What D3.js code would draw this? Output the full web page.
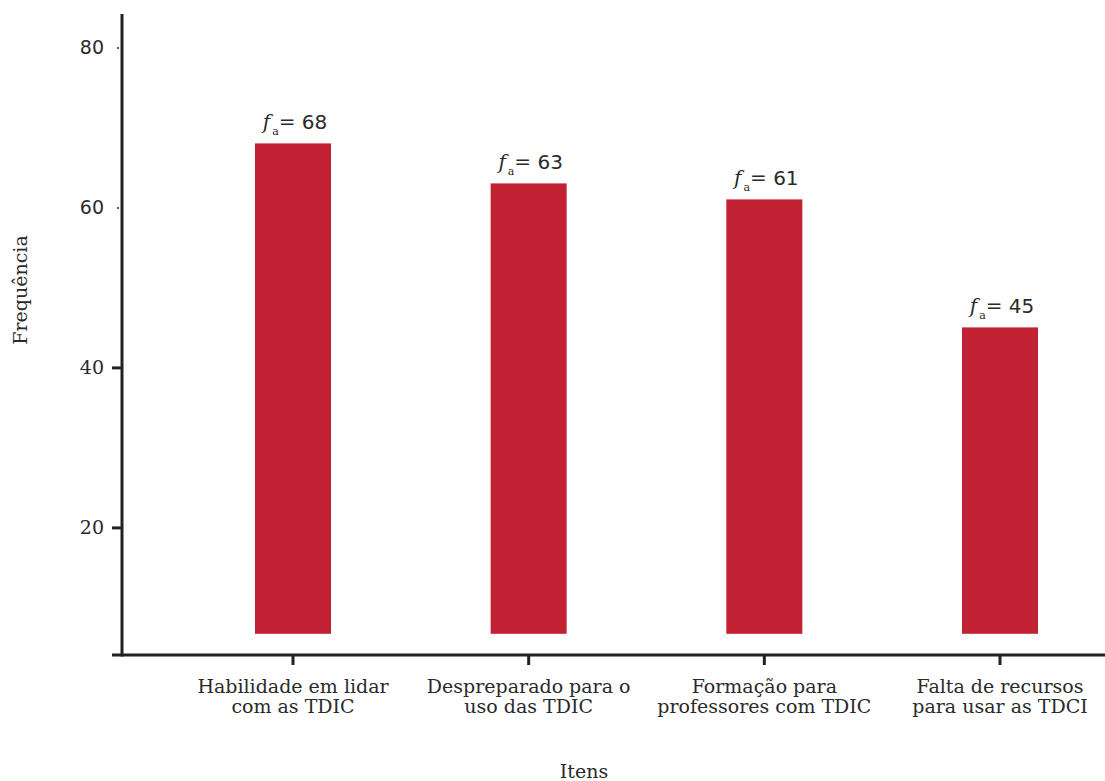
<!DOCTYPE html>
<html>
<head>
<meta charset="utf-8">
<script src="https://cdn.jsdelivr.net/npm/d3@7"></script>
<style>
  html, body { margin: 0; padding: 0; background: #fff; }
  svg { display: block; }
  text { font-family: "DejaVu Serif", serif; fill: #2a2a2a; }
</style>
</head>
<body>
<svg id="chart" width="1105" height="781"></svg>
<script>
// Categories and their absolute frequencies
const categories = [
  ["Habilidade em lidar", "com as TDIC"],
  ["Despreparado para o", "uso das TDIC"],
  ["Formação para", "professores com TDIC"],
  ["Falta de recursos", "para usar as TDCI"]
];
const frequencies = [68, 63, 61, 45];
const yTicks = [20, 40, 60, 80];
const barBase = 6.7;

const svg = d3.select("#chart");
const ink = "#222";

const x = d3.scalePoint()
  .domain(d3.range(categories.length))
  .range([293, 1000]);
const barWidth = 76;

const y = d3.scaleLinear()
  .domain([0, 80])
  .range([687.4, 47.4]);

const axisY = 655;   // position of the horizontal axis line
const axisX = 122;   // position of the vertical axis line

// Bars
svg.append("g").selectAll("rect")
  .data(frequencies)
  .join("rect")
  .attr("x", (d, i) => x(i) - barWidth / 2)
  .attr("y", d => y(d))
  .attr("width", barWidth)
  .attr("height", d => y(barBase) - y(d))
  .attr("fill", "#c22033");

// Value labels: f_a = n
const lab = svg.append("g").selectAll("text")
  .data(frequencies)
  .join("text")
  .attr("x", (d, i) => x(i) + 2)
  .attr("y", d => y(d) - 14)
  .attr("text-anchor", "middle")
  .style("font-size", "20px");
lab.append("tspan").text("f").style("font-style", "italic");
lab.append("tspan").text("a").attr("dx", 2).attr("dy", 6).style("font-size", "11px");
lab.append("tspan").text("= ").attr("dy", -6);
lab.append("tspan").text(d => d).style("font-family", "DejaVu Sans, sans-serif");

// Vertical axis
const yAxis = d3.axisLeft(y).tickValues(yTicks).tickSize(0).tickPadding(18);
const gy = svg.append("g")
  .attr("transform", `translate(${axisX},0)`)
  .call(yAxis);
gy.select(".domain").remove();
gy.selectAll("text")
  .style("font-size", "19px")
  .style("font-family", d => d >= 60 ? "DejaVu Sans, sans-serif" : "DejaVu Serif, serif")
  .attr("fill", ink);
gy.selectAll(".tick").append("line")
  .attr("x1", d => d >= 60 ? -5 : -10)
  .attr("x2", d => d >= 60 ? -3 : 0)
  .attr("stroke", ink)
  .attr("stroke-width", d => d >= 60 ? 1.5 : 3);

svg.append("line")
  .attr("x1", axisX).attr("x2", axisX)
  .attr("y1", 14).attr("y2", axisY + 1.5)
  .attr("stroke", ink).attr("stroke-width", 3);

// Horizontal axis
svg.append("line")
  .attr("x1", 112).attr("x2", 1105)
  .attr("y1", axisY).attr("y2", axisY)
  .attr("stroke", ink).attr("stroke-width", 3);

const gx = svg.append("g").selectAll("g")
  .data(categories)
  .join("g")
  .attr("transform", (d, i) => `translate(${x(i)},${axisY})`);
gx.append("line")
  .attr("y1", 0).attr("y2", 10)
  .attr("stroke", ink).attr("stroke-width", 3);
const cl = gx.append("text")
  .attr("text-anchor", "middle")
  .style("font-size", "19px");
cl.selectAll("tspan")
  .data(d => d)
  .join("tspan")
  .attr("x", 0)
  .attr("y", (d, j) => 38 + j * 20)
  .text(d => d);

// Axis titles
svg.append("text")
  .attr("transform", "translate(27,290) rotate(-90)")
  .attr("text-anchor", "middle")
  .style("font-size", "19px")
  .text("Frequência");

svg.append("text")
  .attr("x", 584).attr("y", 778)
  .attr("text-anchor", "middle")
  .style("font-size", "19px")
  .text("Itens");
</script>
</body>
</html>
